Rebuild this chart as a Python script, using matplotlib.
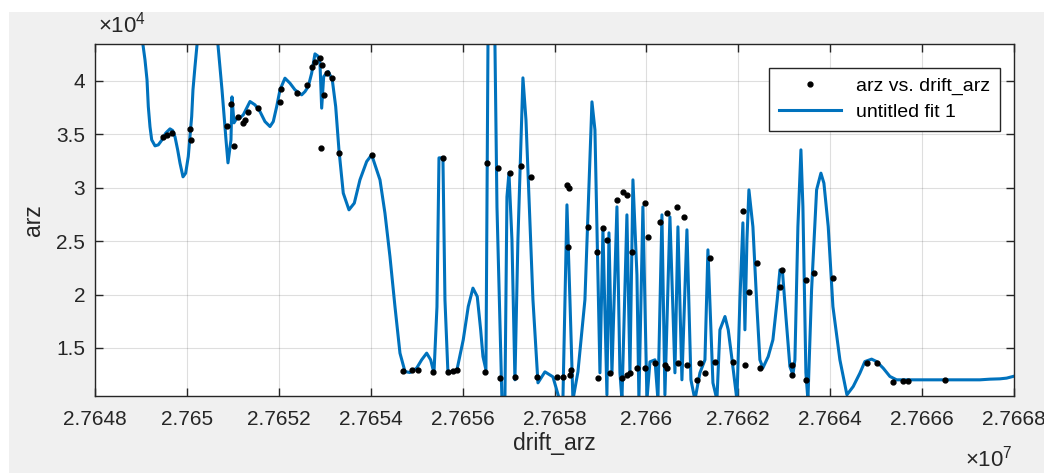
import numpy as np
import matplotlib
matplotlib.use("Agg")
import matplotlib.pyplot as plt
import matplotlib.ticker as mtick
from matplotlib.patches import Rectangle

plt.rcParams['font.family'] = ['Liberation Sans', 'DejaVu Sans']
plt.rcParams['mathtext.fontset'] = 'custom'
plt.rcParams['mathtext.rm'] = 'Liberation Sans'

# measured points (arz vs. drift_arz)
drift_arz = [27649480, 27649567, 27649676, 27650067, 27650089, 27650872, 27650959, 27651025,
             27651112, 27651220, 27651264, 27651329, 27651547, 27652026, 27652047, 27652396,
             27652613, 27652722, 27652787, 27652896, 27652940, 27652918, 27652983, 27653048,
             27653157, 27653309, 27654028, 27654702, 27654898, 27655028, 27655355, 27655572,
             27655681, 27655790, 27655877, 27656486, 27656530, 27656769, 27656813, 27657030,
             27657139, 27657270, 27657487, 27657618, 27658053, 27658184, 27658271, 27658314,
             27658292, 27658358, 27658336, 27658728, 27658924, 27658945, 27659054, 27659141,
             27659206, 27659359, 27659468, 27659489, 27659576, 27659576, 27659642, 27659685,
             27659794, 27659968, 27659968, 27660033, 27660186, 27660294, 27660403, 27660447,
             27660447, 27660664, 27660686, 27660817, 27660882, 27661100, 27661165, 27661274,
             27661382, 27661491, 27661883, 27662100, 27662144, 27662231, 27662405, 27662470,
             27662906, 27662949, 27663167, 27663167, 27663471, 27663471, 27663645, 27664059,
             27664799, 27665016, 27665364, 27665582, 27665691, 27666496]
arz = [34760, 34946, 35133, 35507, 34478, 35788, 37847, 33916,
       36630, 36069, 36350, 37098, 37473, 38034, 39251, 38877,
       39626, 41310, 41778, 42153, 41498, 33729, 38690, 40749,
       40281, 33261, 33074, 12856, 12950, 12950, 12762, 32793,
       12762, 12856, 12950, 12762, 32325, 31857, 12201, 31389,
       12294, 32044, 31014, 12294, 12294, 12294, 30266, 29985,
       24462, 12950, 12482, 26334, 23994, 12201, 26241, 25118,
       12669, 28862, 12201, 29610, 29330, 12482, 12669, 23994,
       13137, 28581, 13137, 25398, 13605, 26802, 13418, 27645,
       13137, 28206, 13605, 27270, 13418, 12014, 13605, 12669,
       23433, 13698, 13698, 27832, 13418, 20250, 22965, 13137,
       20718, 22310, 13418, 12482, 21374, 12014, 22029, 21561,
       13605, 13605, 11826, 11920, 11920, 12014]

# fitted curve (untitled fit 1)
fit_x = [27648979, 27649044, 27649088, 27649132, 27649160, 27649197, 27649234, 27649306,
         27649378, 27649458, 27649538, 27649632, 27649690, 27649741, 27649799, 27649850,
         27649915, 27649973, 27650030, 27650104, 27650132, 27650176, 27650220, 27650285,
         27650611, 27650676, 27650764, 27650851, 27650894, 27650959, 27650981, 27651025,
         27651090, 27651155, 27651227, 27651373, 27651482, 27651590, 27651699, 27651808,
         27651880, 27651954, 27652026, 27652134, 27652243, 27652352, 27652498, 27652570,
         27652641, 27652715, 27652787, 27652846, 27652896, 27652933, 27652977, 27653077,
         27653164, 27653238, 27653309, 27653403, 27653527, 27653643, 27653766, 27653912,
         27654021, 27654202, 27654310, 27654419, 27654528, 27654637, 27654746, 27654854,
         27655000, 27655109, 27655218, 27655305, 27655377, 27655442, 27655486, 27655572,
         27655616, 27655681, 27655877, 27656014, 27656123, 27656225, 27656319, 27656393,
         27656443, 27656508, 27656552, 27656595, 27656661, 27656704, 27656748, 27656856,
         27656921, 27656965, 27657009, 27657074, 27657139, 27657204, 27657313, 27657379,
         27657531, 27657640, 27657792, 27657966, 27658097, 27658184, 27658271, 27658336,
         27658401, 27658510, 27658662, 27658815, 27658880, 27658989, 27659054, 27659141,
         27659185, 27659250, 27659359, 27659424, 27659468, 27659576, 27659642, 27659707,
         27659794, 27659837, 27659924, 27660012, 27660077, 27660186, 27660251, 27660338,
         27660403, 27660512, 27660621, 27660686, 27660773, 27660882, 27660969, 27661056,
         27661165, 27661274, 27661339, 27661448, 27661535, 27661600, 27661710, 27661781,
         27661855, 27661970, 27662035, 27662100, 27662144, 27662188, 27662231, 27662318,
         27662405, 27662470, 27662536, 27662651, 27662753, 27662847, 27662906, 27662964,
         27663036, 27663123, 27663188, 27663232, 27663297, 27663363, 27663406, 27663471,
         27663515, 27663595, 27663704, 27663798, 27663863, 27663957, 27664059, 27664211,
         27664364, 27664501, 27664646, 27664755, 27664901, 27665010, 27665153, 27665299,
         27665445, 27665669, 27667258, 27667475, 27667693, 27667839, 27667982]
fit_y = [44774, 43370, 41966, 40094, 37595, 35694, 34478, 33916,
         34010, 34478, 35105, 35507, 35350, 34760, 33542, 32295,
         31014, 31360, 32915, 36660, 39158, 41340, 43370, 45710,
         45710, 43370, 39158, 34478, 32325, 34478, 38502, 36069,
         36537, 36537, 36818, 38066, 37754, 37130, 36191, 35725,
         36191, 37595, 39158, 40250, 39782, 39158, 38690, 38998,
         39466, 40718, 42527, 42340, 41653, 37445, 40406, 40874,
         40094, 37595, 33542, 29489, 27926, 28553, 30734, 32447,
         33074, 30734, 27616, 23555, 18874, 14512, 12790, 12696,
         13109, 13886, 14512, 13886, 12638, 18846, 32793, 32793,
         19502, 12669, 12950, 15758, 18874, 20597, 19810, 16694,
         14194, 12950, 43370, 46646, 46646, 43370, 28206, 10142,
         10142, 29142, 31389, 25118, 12014, 25118, 40281, 36350,
         19502, 11733, 12762, 12294, 10329, 10329, 28394, 19502,
         10142, 12762, 19502, 38034, 35413, 12669, 26054, 10610,
         25773, 12669, 28206, 12669, 10142, 27458, 12669, 30734,
         21842, 10142, 28206, 10142, 13698, 13886, 10142, 27458,
         10610, 27270, 12669, 26334, 12014, 26054, 12014, 10142,
         12669, 13886, 24182, 11733, 10142, 16694, 17939, 16694,
         14194, 10142, 19502, 26709, 16694, 25118, 29798, 26334,
         18846, 13886, 13137, 14194, 15758, 19502, 22310, 22001,
         17939, 13258, 12482, 13886, 26334, 33542, 28206, 12669,
         10142, 20438, 29798, 31360, 30425, 26362, 18874, 13886,
         10610, 11390, 12638, 13725, 13951, 13725, 13109, 12332,
         12014, 12014, 12014, 12076, 12107, 12173, 12332]

x_ticks = np.arange(27648000, 27668001, 2000)
y_ticks = [15000, 20000, 25000, 30000, 35000, 40000]

fig = plt.figure(figsize=(10.44, 4.73), dpi=100, facecolor='white')
fig.patches.append(Rectangle((9 / 1044, 0), 1, 461 / 473, transform=fig.transFigure,
                             facecolor='#f0f0f0', edgecolor='none', zorder=-10))
ax = fig.add_axes([95 / 1044, 77 / 473, 919 / 1044, 352 / 473])

ax.plot(drift_arz, arz, linestyle='none', marker='.', color='black', markersize=7,
        label='arz vs. drift_arz', zorder=3)
ax.plot(fit_x, fit_y, color='#0072BD', linewidth=2.2, label='untitled fit 1', zorder=2)

ax.set_xlim(27648000, 27668000)
ax.set_ylim(10500, 43450)
ax.set_xticks(x_ticks)
ax.set_yticks(y_ticks)
ax.xaxis.set_major_formatter(mtick.FuncFormatter(lambda v, p: '%g' % (v / 1e7)))
ax.yaxis.set_major_formatter(mtick.FuncFormatter(lambda v, p: '%g' % (v / 1e4)))
ax.grid(True, color='#262626', alpha=0.15, linewidth=0.8)
ax.tick_params(direction='in', length=6, width=1, colors='#262626', labelsize=15,
               top=True, right=True)
ax.tick_params(axis='x', pad=10)
ax.tick_params(axis='y', pad=7)
for s in ax.spines.values():
    s.set_color('#262626')
    s.set_linewidth(1)

ax.set_xlabel('drift_arz', fontsize=16.5, color='#262626', labelpad=2)
ax.set_ylabel('arz', fontsize=16.5, color='#262626', labelpad=8)

fig.text(98 / 1044, 1 - 38 / 473, r'$\times10^{4}$', fontsize=16, color='#262626',
         ha='left', va='bottom')
fig.text(1013 / 1044, 1 - 471 / 473, r'$\times10^{7}$', fontsize=16, color='#262626',
         ha='right', va='bottom')

leg = ax.legend(loc='upper right', bbox_to_anchor=(0.985, 0.932), borderaxespad=0,
                fontsize=14, fancybox=False, framealpha=1, edgecolor='#262626',
                handlelength=3.2, borderpad=0.5, labelspacing=0.4)
leg.get_frame().set_linewidth(1)

fig.savefig('out.png', dpi=100, facecolor=fig.get_facecolor())
